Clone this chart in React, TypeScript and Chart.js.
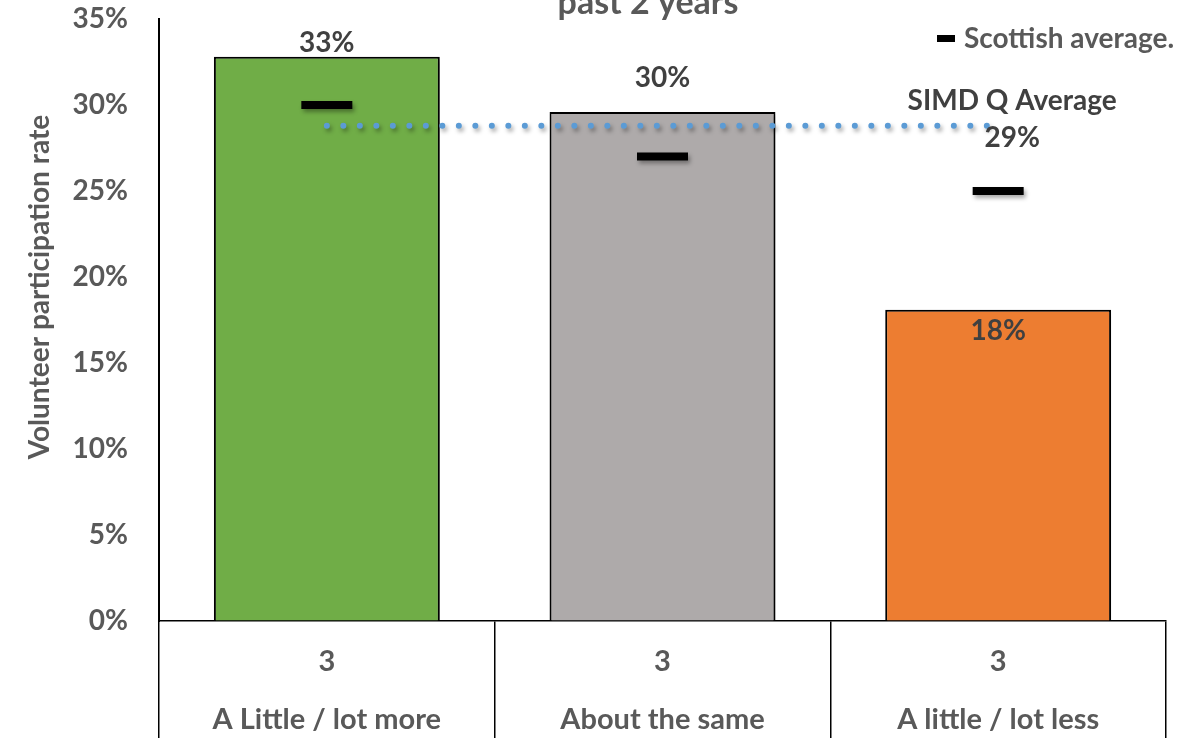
import { useEffect, useRef } from 'react';
import { Chart, registerables } from 'chart.js';

Chart.register(...registerables);

// ---- data ----
const categories = ['A Little / lot more', 'About the same', 'A little / lot less'];
const groupLabels = ['3', '3', '3'];
const participationRate = [32.8, 29.6, 18.1];
const scottishAverage = [30.0, 27.0, 25.0];
const simdQAverage = [28.8, 28.8, 28.8];
const yMin = 0;
const yMax = 35;
const yStep = 5;

// ---- texts ----
const chartTitle = 'past 2 years';
const yAxisTitle = 'Volunteer participation rate';
const simdLabel = 'SIMD Q Average';
const legendLabel = 'Scottish average.';

// ---- styles ----
const barColors = ['#70AD47', '#AEAAAA', '#ED7D31'];
const barLabelDy = [-14, -34, 21];
const FONT = 'Lato';

const annotations = {
  id: 'annotations',
  beforeDatasetDraw(chart: any) {
    const ctx = chart.ctx;
    ctx.save();
    ctx.shadowColor = 'rgba(0,0,0,0.35)';
    ctx.shadowBlur = 4;
    ctx.shadowOffsetX = 2;
    ctx.shadowOffsetY = 3;
  },
  afterDatasetDraw(chart: any) {
    chart.ctx.restore();
  },
  afterDraw(chart: any) {
    const { ctx, scales } = chart;
    const xs = scales.x;
    const ys = scales.y;
    ctx.save();
    ctx.textAlign = 'center';
    ctx.textBaseline = 'middle';
    ctx.fillStyle = '#404040';
    ctx.font = `bold 28px ${FONT}`;
    participationRate.forEach((v, i) => {
      const px = xs.getPixelForValue(i);
      const py = ys.getPixelForValue(v) + barLabelDy[i];
      ctx.fillText(Math.round(v) + '%', px, py);
    });
    const last = simdQAverage.length - 1;
    const sx = xs.getPixelForValue(last) + 14;
    const sy = ys.getPixelForValue(simdQAverage[last]);
    ctx.fillText(simdLabel, sx, sy - 25);
    ctx.fillText(Math.round(simdQAverage[last]) + '%', sx, sy + 12);

    // legend
    const scottish = chart.data.datasets[1];
    ctx.fillStyle = '#000000';
    ctx.fillRect(937, 35, 18, 7);
    ctx.fillStyle = '#595959';
    ctx.textAlign = 'left';
    ctx.font = `bold 28px ${FONT}`;
    ctx.fillText(scottish.label, 964, 39);

    // title
    ctx.textAlign = 'center';
    ctx.font = `bold 34px ${FONT}`;
    ctx.textBaseline = 'alphabetic';
    ctx.fillText(chartTitle, 648, 14);

    // y axis title
    ctx.translate(40, 287);
    ctx.rotate(-Math.PI / 2);
    ctx.textBaseline = 'middle';
    ctx.font = `bold 28px ${FONT}`;
    ctx.fillText(yAxisTitle, 0, 0);
    ctx.restore();
  },
};

export default function App() {
  const ref = useRef<HTMLCanvasElement>(null);
  useEffect(() => {
    if (!ref.current) return;
    const chart = new Chart(ref.current, {
      type: 'bar',
      data: {
        labels: categories.map((c, i) => [groupLabels[i], c]),
        datasets: [
          {
            type: 'bar',
            label: 'Volunteer participation rate',
            data: participationRate,
            backgroundColor: barColors,
            borderColor: '#000000',
            borderWidth: 2,
            categoryPercentage: 1,
            barPercentage: 0.673,
            order: 3,
          } as any,
          {
            type: 'line',
            label: legendLabel,
            data: scottishAverage,
            showLine: false,
            pointStyle: 'line',
            pointRadius: 25.5,
            pointHoverRadius: 25.5,
            pointBorderWidth: 8,
            pointBorderColor: '#000000',
            pointBackgroundColor: '#000000',
            borderColor: '#000000',
            order: 1,
          } as any,
          {
            type: 'line',
            label: simdLabel,
            data: simdQAverage,
            borderColor: '#5B9BD5',
            borderWidth: 6,
            borderDash: [0, 16.5],
            borderCapStyle: 'round',
            pointRadius: 0,
            fill: false,
            order: 2,
          } as any,
        ],
      },
      options: {
        responsive: false,
        animation: false,
        events: [],
        layout: { autoPadding: false, padding: { top: 19, right: 35, left: 0, bottom: 0 } },
        plugins: {
          tooltip: { enabled: false },
          title: { display: false },
          legend: { display: false },
        },
        scales: {
          x: {
            type: 'category',
            offset: true,
            grid: {
              display: true,
              offset: true,
              drawOnChartArea: false,
              drawTicks: true,
              tickLength: 117,
              color: '#000000',
              lineWidth: 1.5,
            },
            border: { display: true, color: '#000000', width: 1.5 },
            ticks: {
              color: '#595959',
              font: { family: FONT, size: 29, weight: 'bold', lineHeight: 58 / 29 },
              padding: -105,
              maxRotation: 0,
              minRotation: 0,
              autoSkip: false,
            },
            afterFit: (scale: any) => {
              scale.height = 117;
              scale.paddingLeft = 0;
              scale.paddingRight = 0;
            },
          },
          y: {
            min: yMin,
            max: yMax,
            grid: {
              display: true,
              drawOnChartArea: false,
              drawTicks: true,
              tickLength: 31,
              color: 'rgba(0,0,0,0)',
            },
            border: { display: true, color: '#000000', width: 2 },
            ticks: {
              stepSize: yStep,
              padding: 0,
              color: '#595959',
              font: { family: FONT, size: 28, weight: 'bold' },
              callback: (v: any) => `${v}%`,
            },
            afterFit: (scale: any) => {
              scale.width = 159;
              scale.paddingTop = 0;
              scale.paddingBottom = 0;
            },
          },
        },
      },
      plugins: [annotations],
    });
    return () => chart.destroy();
  }, []);
  return (
    <div style={{ position: 'absolute', left: 0, top: 0, width: 1201, height: 738, background: '#fff' }}>
      <canvas ref={ref} width={1201} height={738} style={{ display: 'block' }} />
    </div>
  );
}
